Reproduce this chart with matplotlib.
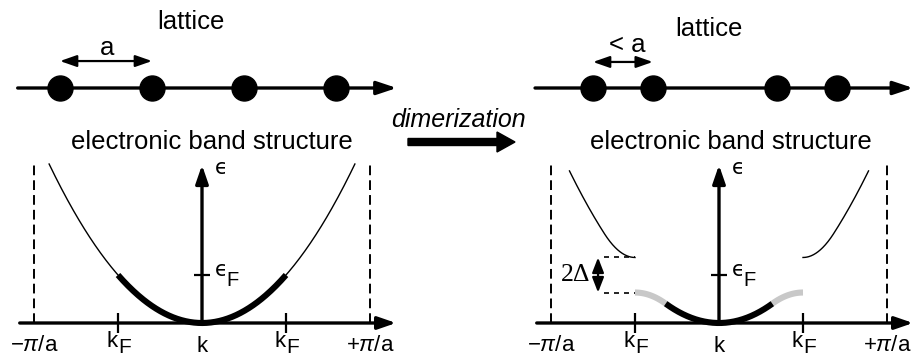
import matplotlib
matplotlib.use("Agg")
import matplotlib.pyplot as plt
import numpy as np

plt.rcParams['font.family'] = ['Liberation Sans', 'DejaVu Sans']
plt.rcParams['mathtext.fontset'] = 'custom'
plt.rcParams['mathtext.rm'] = 'Liberation Sans'
plt.rcParams['mathtext.it'] = 'Liberation Sans:italic'
plt.rcParams['mathtext.fallback'] = 'stixsans'

# lattice sites, in units of the lattice constant a
sites_uniform = [0.0, 1.0, 2.0, 3.0]
sites_dimerized = [0.0, 0.65, 2.0, 2.65]
chain_extent_uniform = (-0.46, 3.66)
chain_extent_dimerized = (-0.63, 3.48)

# band parameters: k in units of pi/a, energies in units of eps_F
k_zone = 1.0
k_fermi = 0.5
eps_fermi = 1.0
half_gap = 0.365
k_band_top_free = 0.91
k_band_top_gapped = 0.89
k_axis = (-1.085, 1.155)
e_axis_top = 3.29
e_zone_top = 3.33

zone_labels = [r"$-\pi$/a", r"+$\pi$/a"]
center_label = "k"

W, H = 914, 358
FS = 18.5
FS_TICK = 16
FS_EPS = 15
LW_AXIS = 2.4

fig = plt.figure(figsize=(W / 100, H / 100), dpi=100)


def add_box(x0, y0, x1, y1):
    ax = fig.add_axes([x0 / W, 1 - y1 / H, (x1 - x0) / W, (y1 - y0) / H])
    ax.set_axis_off()
    return ax


def free_band(k):
    return eps_fermi * (np.asarray(k) / k_fermi) ** 2


def free_slope(k):
    return 2 * eps_fermi * np.asarray(k) / k_fermi ** 2


def lower_band(k):
    """Free band, flattened to eps_F - Delta at the zone-folding point."""
    ka = np.abs(k)
    k1 = k_fermi * (eps_fermi - half_gap) / eps_fermi
    a = free_slope(k1) / (2 * (k_fermi - k1))
    cap = (eps_fermi - half_gap) - a * (ka - k_fermi) ** 2
    return np.where(ka <= k1, free_band(ka), cap), k1


def upper_band(k):
    ka = np.abs(k)
    k2 = k_fermi * (eps_fermi + half_gap) / eps_fermi
    a = free_slope(k2) / (2 * (k2 - k_fermi))
    cap = (eps_fermi + half_gap) + a * (ka - k_fermi) ** 2
    return np.where(ka >= k2, free_band(ka), cap), k2


def arrow(ax, p0, p1, style, lw, ms=10, color='black', z=3):
    ax.annotate("", xy=p1, xytext=p0,
                arrowprops=dict(arrowstyle=style, lw=lw, color=color,
                                shrinkA=0, shrinkB=0, mutation_scale=ms),
                zorder=z, annotation_clip=False)


def subscripted(ax, x, y, base, sub, size, sub_size, drop_pts):
    """Write base letter ending at x and a subscript starting at x."""
    ax.text(x, y, base, ha='right', va='baseline', fontsize=size)
    ax.annotate(sub, xy=(x, y), xytext=(0, -drop_pts),
                textcoords='offset points', ha='left', va='baseline',
                fontsize=sub_size, annotation_clip=False)


def draw_chain(ax, sites, extent):
    ax.set_xlim((0 - 60) / 92, (457 - 60) / 92)
    ax.set_ylim((88 - 160) / 92, 88 / 92)
    arrow(ax, (extent[0], 0), (extent[1], 0),
          "-|>,head_length=1.2,head_width=0.4", LW_AXIS)
    ax.plot(sites, np.zeros(len(sites)), 'o', color='black', ms=18, zorder=4)


def draw_axes(ax):
    for kz in (-k_zone, k_zone):
        ax.plot([kz, kz], [0, e_zone_top], color='black', lw=1.4,
                dashes=(5, 2.6), zorder=2)
    arrow(ax, (k_axis[0], 0), (k_axis[1], 0),
          "-|>,head_length=1.1,head_width=0.38", LW_AXIS)
    arrow(ax, (0, 0), (0, e_axis_top),
          "-|>,head_length=1.1,head_width=0.38", LW_AXIS)
    ax.vlines([-k_fermi, k_fermi], -0.2, 0.2, color='black', lw=1.6)
    ax.hlines(eps_fermi, -0.045, 0.045, color='black', lw=1.6)
    for pos, lab in zip((-k_zone, k_zone), zone_labels):
        ax.text(pos, -0.58, lab, ha='center', va='baseline', fontsize=FS_TICK)
    ax.text(0.0, -0.60, center_label, ha='center', va='baseline',
            fontsize=FS_TICK)
    for kf in (-k_fermi, k_fermi):
        subscripted(ax, kf, -0.49, "k", "F", FS_TICK, FS_TICK - 1, 4.5)
    # energy axis label and Fermi level
    ax.text(0.075, 3.23, "\u03f5", ha='left', va='center', fontsize=FS_EPS,
            family=['DejaVu Sans'])
    ax.text(0.075, 1.10, "\u03f5", ha='left', va='center', fontsize=FS_EPS,
            family=['DejaVu Sans'])
    ax.text(0.143, 0.78, "F", ha='left', va='baseline', fontsize=14.5)


# ---------- uniform chain ----------
lat_l = add_box(0, 0, 457, 160)
draw_chain(lat_l, sites_uniform, chain_extent_uniform)
arrow(lat_l, (sites_uniform[0], 0.293), (sites_uniform[1], 0.293),
      "<|-|>,head_length=1.0,head_width=0.35", 1.6)
lat_l.text(0.51, 0.435, "a", ha='center', va='center', fontsize=FS)
lat_l.text(1.42, 0.72, "lattice", ha='center', va='center', fontsize=FS)
lat_l.text(1.647, -0.59, "electronic band structure", ha='center',
           va='center', fontsize=FS)

band_l = add_box(0, 150, 457, 358)
band_l.set_xlim((0 - 202) / 168, (457 - 202) / 168)
band_l.set_ylim((323 - 358) / 48, (323 - 150) / 48)
draw_axes(band_l)
k = np.linspace(-k_band_top_free, k_band_top_free, 400)
band_l.plot(k, free_band(k), color='black', lw=1.0, zorder=5)
kin = np.linspace(-k_fermi, k_fermi, 200)
band_l.plot(kin, free_band(kin), color='black', lw=4.4,
            solid_capstyle='butt', zorder=6)

# ---------- dimerized chain ----------
lat_r = add_box(470, 0, 914, 160)
draw_chain(lat_r, sites_dimerized, chain_extent_dimerized)
lat_r.set_xlim((470 - 593) / 92, (914 - 593) / 92)
arrow(lat_r, (sites_dimerized[0], 0.283), (sites_dimerized[1], 0.283),
      "<|-|>,head_length=1.0,head_width=0.35", 1.6)
lat_r.text(0.37, 0.47, "< a", ha='center', va='center', fontsize=FS)
lat_r.text(1.26, 0.64, "lattice", ha='center', va='center', fontsize=FS)
lat_r.text(1.50, -0.59, "electronic band structure", ha='center',
           va='center', fontsize=FS)

band_r = add_box(460, 150, 914, 358)
band_r.set_xlim((460 - 719) / 168, (914 - 719) / 168)
band_r.set_ylim((323 - 358) / 48, (323 - 150) / 48)
draw_axes(band_r)

_, k1 = lower_band(0.0)
_, k2 = upper_band(1.0)
for sgn in (-1, 1):
    ku = sgn * np.linspace(k_fermi, k_band_top_gapped, 200)
    band_r.plot(ku, upper_band(ku)[0], color='black', lw=1.0, zorder=5)
    kg = sgn * np.linspace(k1, k_fermi, 80)
    band_r.plot(kg, lower_band(kg)[0], color='#c8c8c8', lw=4.4,
                solid_capstyle='butt', zorder=6)
kl = np.linspace(-k1, k1, 200)
band_r.plot(kl, lower_band(kl)[0], color='black', lw=4.4,
            solid_capstyle='butt', zorder=6)

# gap marker
for e in (eps_fermi - half_gap, eps_fermi + half_gap):
    band_r.plot([-k2, -k_fermi], [e, e], color='black', lw=1.2,
                dashes=(3, 3), zorder=3)
arrow(band_r, (-0.72, eps_fermi), (-0.72, eps_fermi + half_gap),
      "-|>,head_length=0.9,head_width=0.35", 1.6)
arrow(band_r, (-0.72, eps_fermi), (-0.72, eps_fermi - half_gap),
      "-|>,head_length=0.9,head_width=0.35", 1.6)
band_r.text(-0.765, eps_fermi, "2\u0394", ha='right', va='center',
            fontsize=FS, family=['Liberation Serif'])

# transformation arrow between the panels
fig.text(458.5 / W, 1 - 120 / H, "dimerization", ha='center', va='center',
         fontsize=18, style='italic')
fig.patches.append(matplotlib.patches.FancyArrow(
    408 / W, 1 - 142 / H, 89 / W, 0, width=7 / H, head_width=20 / H,
    head_length=18 / W, length_includes_head=False, color='black',
    transform=fig.transFigure, figure=fig))

fig.savefig("out.png", dpi=100)
